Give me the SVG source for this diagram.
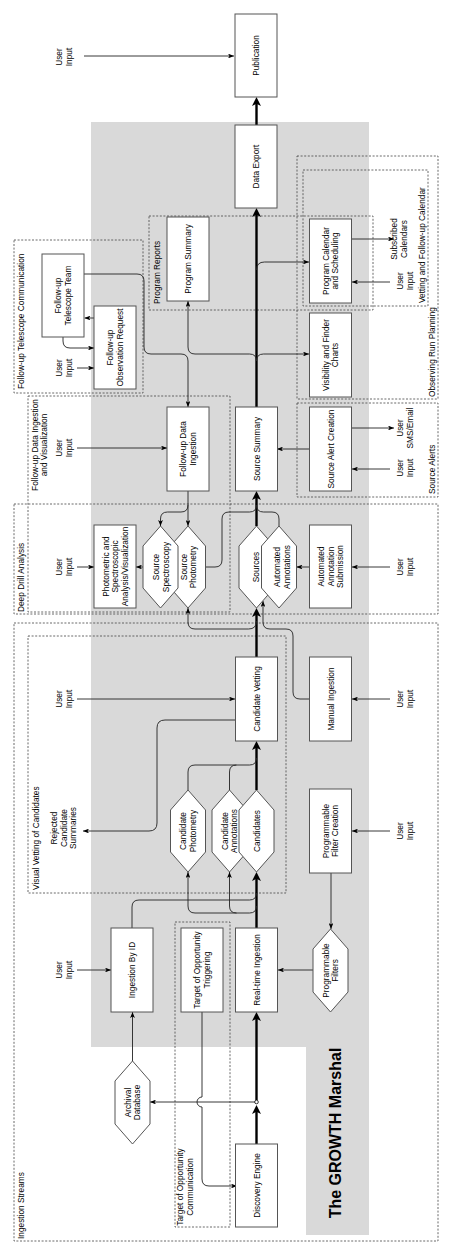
<svg xmlns="http://www.w3.org/2000/svg" width="453" height="1256" viewBox="0 0 453 1256">
<defs>
<style>
.t{font-family:"Liberation Sans",Arial,Helvetica,sans-serif;font-size:8.3px;fill:#000;text-anchor:middle}
.l{font-family:"Liberation Sans",Arial,Helvetica,sans-serif;font-size:8.3px;fill:#000;text-anchor:start}
.lc{font-family:"Liberation Sans",Arial,Helvetica,sans-serif;font-size:8.3px;fill:#000;text-anchor:middle}
.b{fill:#fff;stroke:#555;stroke-width:1}
.d{fill:none;stroke:#444;stroke-width:0.8;stroke-dasharray:2 1.6}
.c{fill:none;stroke:#222;stroke-width:0.9}
.ca{fill:none;stroke:#222;stroke-width:0.9;marker-end:url(#a)}
.k{fill:none;stroke:#000;stroke-width:2.4;marker-end:url(#A)}
</style>
<marker id="a" viewBox="0 0 10 8" refX="10" refY="4" markerWidth="6" markerHeight="4.8" markerUnits="userSpaceOnUse" orient="auto"><path d="M0,0 L10,4 L0,8 L2.5,4 Z" fill="#000"/></marker>
<marker id="A" viewBox="0 0 10 10" refX="5" refY="5" markerWidth="9" markerHeight="9" markerUnits="userSpaceOnUse" orient="auto"><path d="M0,0 L10,5 L0,10 L2.5,5 Z" fill="#000"/></marker>
</defs>
<rect width="453" height="1256" fill="#fff"/>
<path id="marshal-bg" d="M91 122 H369 V1235 H306 V1047 H91 Z" fill="#d9d9d9"/>
<text id="marshal-title" transform="translate(341 1133) rotate(-90)" style="font-family:'Liberation Sans',Arial,sans-serif;font-size:16px;font-weight:bold;text-anchor:middle;fill:#000">The GROWTH Marshal</text>

<g id="groups">
<rect class="d" x="14" y="623" width="424" height="618"/>
<text class="l" transform="translate(24 1239) rotate(-90)">Ingestion Streams</text>
<rect class="d" x="28" y="636" width="258" height="257"/>
<text class="l" transform="translate(38.5 890) rotate(-90)">Visual Vetting of Candidates</text>
<rect class="d" x="175" y="922" width="55" height="305"/>
<text class="lc" transform="translate(183 1187) rotate(-90)"><tspan x="0" y="0">Target of Opportunity</tspan><tspan x="0" y="9.5">Communication</tspan></text>
<rect class="d" x="14" y="504" width="424" height="110"/>
<text class="l" transform="translate(24 612) rotate(-90)">Deep Drill Analysis</text>
<rect class="d" x="28" y="396" width="202" height="216"/>
<text class="lc" transform="translate(37.5 445) rotate(-90)"><tspan x="0" y="0">Follow-up Data Ingestion</tspan><tspan x="0" y="9.3">and Visualization</tspan></text>
<rect class="d" x="14" y="240" width="129" height="153"/>
<text class="l" transform="translate(24 389) rotate(-90)">Follow-up Telescope Communication</text>
<rect class="d" x="149" y="216" width="224" height="94"/>
<text class="l" transform="translate(160 304) rotate(-90)">Program Reports</text>
<rect class="d" x="297" y="156" width="141" height="243"/>
<text class="l" transform="translate(435 397) rotate(-90)">Observing Run Planning</text>
<rect class="d" x="303" y="170" width="125" height="136"/>
<text class="l" transform="translate(425 303) rotate(-90)">Vetting and Follow-up Calendar</text>
<rect class="d" x="297" y="403" width="141" height="94"/>
<text class="l" transform="translate(435 494) rotate(-90)">Source Alerts</text>
</g>

<g id="connectors">
<path class="ca" d="M84 56 H234"/>
<path class="k" d="M256.5 125 V101.5"/>
<path class="k" d="M256.5 407 V212.5"/>
<path class="ca" d="M256.5 270 Q256.5 262 264.5 262 H309"/>
<path class="ca" d="M256.5 361 Q256.5 354 263.5 354 H309"/>
<path class="ca" d="M256.5 361 Q256.5 354 249.5 354 H195 Q188 354 188 347 V301"/>
<path class="ca" d="M84 274 H137 Q144 274 144 281 V347 Q144 354 151 354 H181 Q188 354 188 361 V407"/>
<path class="ca" d="M63 337 V341 Q63 348 70 348 H94"/>
<path class="ca" d="M94 318 H84.5"/>
<path class="ca" d="M77 368 H94"/>
<path class="ca" d="M77 448 H167"/>
<path class="ca" d="M309 449 H277"/>
<path class="k" d="M256.5 526 V495.5"/>
<path class="c" d="M205.5 567 H215 Q222 567 222 560 V519 Q222 512 229 512 H249.5 Q256.5 512 256.5 505"/>
<path class="c" d="M279 526 V519 Q279 512 272 512 H263.5 Q256.5 512 256.5 505"/>
<path class="ca" d="M188 491 V526"/>
<path class="ca" d="M188 505 Q188 512 181 512 H167.5 Q160.5 512 160.5 519 V526"/>
<path class="ca" d="M77 567 H94"/>
<path class="ca" d="M143 567 H136"/>
<path class="ca" d="M309 567 H296.5"/>
<path class="k" d="M256.5 657 V612.5"/>
<path class="ca" d="M256.5 621 Q256.5 629 248.5 629 H195 Q188 629 188 622 V608"/>
<path class="ca" d="M309 699 H300 Q293 699 293 692 V636 Q293 629 286 629 H270 Q263 629 263 622 V601"/>
<path class="ca" d="M77 699 H235"/>
<path class="ca" d="M235 720 H165 Q157 720 157 728 V823 Q157 831 149 831 H83"/>
<path class="k" d="M256.5 790 V745.5"/>
<path class="c" d="M229.5 790 V772 Q229.5 765 236.5 765 H249.5 Q256.5 765 256.5 758"/>
<path class="c" d="M188 790 V772 Q188 765 195 765 H236.5"/>
<path class="k" d="M256.5 928 V876.5"/>
<path class="ca" d="M256.5 906 Q256.5 913 249.5 913 H195 Q188 913 188 906 V872"/>
<path class="ca" d="M236.5 913 Q229.5 913 229.5 906 V872"/>
<path class="c" d="M132 928 V907 Q132 900 139 900 H249.5 Q256.5 900 256.5 893"/>
<path class="ca" d="M331 873 V929"/>
<path class="ca" d="M313 970 H278"/>
<path class="ca" d="M77 970 H111"/>
<path class="ca" d="M132.5 1061 V1012"/>
<path class="ca" d="M256.5 1102 H150"/>
<path class="ca" d="M202 1012 V1097 A5 5 0 0 0 202 1107 V1179 Q202 1186 209 1186 H237"/>
<path class="k" d="M256.5 1144 V1109.5"/>
<path class="k" d="M256.5 1100 V1016.5"/>
<circle cx="256.5" cy="1102" r="1.8" fill="#fff" stroke="#000" stroke-width="0.8"/>
<path class="ca" d="M390 282 H352"/>
<path class="ca" d="M352 239 H394"/>
<path class="ca" d="M390 469 H352"/>
<path class="ca" d="M352 428 H394"/>
<path class="ca" d="M390 567 H352"/>
<path class="ca" d="M390 699 H352"/>
<path class="ca" d="M390 831 H352"/>
</g>

<g id="free-text">
<text class="t" transform="translate(64 57) rotate(-90)"><tspan x="0" y="-1.75">User</tspan><tspan x="0" y="7.75">Input</tspan></text>
<text class="t" transform="translate(64 368) rotate(-90)"><tspan x="0" y="-1.75">User</tspan><tspan x="0" y="7.75">Input</tspan></text>
<text class="t" transform="translate(64 448) rotate(-90)"><tspan x="0" y="-1.75">User</tspan><tspan x="0" y="7.75">Input</tspan></text>
<text class="t" transform="translate(64 567) rotate(-90)"><tspan x="0" y="-1.75">User</tspan><tspan x="0" y="7.75">Input</tspan></text>
<text class="t" transform="translate(64 699) rotate(-90)"><tspan x="0" y="-1.75">User</tspan><tspan x="0" y="7.75">Input</tspan></text>
<text class="t" transform="translate(64 970) rotate(-90)"><tspan x="0" y="-1.75">User</tspan><tspan x="0" y="7.75">Input</tspan></text>
<text class="t" transform="translate(63.5 828) rotate(-90)"><tspan x="0" y="-6.5">Rejected</tspan><tspan x="0" y="3">Candidate</tspan><tspan x="0" y="12.5">Summaries</tspan></text>
<text class="t" transform="translate(399 239) rotate(-90)"><tspan x="0" y="-1.75">Subscribed</tspan><tspan x="0" y="7.75">Calendars</tspan></text>
<text class="t" transform="translate(405 281) rotate(-90)"><tspan x="0" y="-1.75">User</tspan><tspan x="0" y="7.75">Input</tspan></text>
<text class="t" transform="translate(405 428) rotate(-90)"><tspan x="0" y="-1.75">User</tspan><tspan x="0" y="7.75">SMS/Email</tspan></text>
<text class="t" transform="translate(405 468) rotate(-90)"><tspan x="0" y="-1.75">User</tspan><tspan x="0" y="7.75">Input</tspan></text>
<text class="t" transform="translate(405 567) rotate(-90)"><tspan x="0" y="-1.75">User</tspan><tspan x="0" y="7.75">Input</tspan></text>
<text class="t" transform="translate(405 699) rotate(-90)"><tspan x="0" y="-1.75">User</tspan><tspan x="0" y="7.75">Input</tspan></text>
<text class="t" transform="translate(405 831) rotate(-90)"><tspan x="0" y="-1.75">User</tspan><tspan x="0" y="7.75">Input</tspan></text>
</g>

<g id="n-publication"><rect class="b" x="235" y="14" width="42" height="83"/><text class="t" transform="translate(256 55.5) rotate(-90)"><tspan x="0" y="3">Publication</tspan></text></g>
<g id="n-data-export"><rect class="b" x="235" y="125" width="42" height="83"/><text class="t" transform="translate(256 166.5) rotate(-90)"><tspan x="0" y="3">Data Export</tspan></text></g>
<g id="n-program-calendar"><rect class="b" x="309.5" y="219" width="42" height="84"/><text class="t" transform="translate(330.5 261) rotate(-90)"><tspan x="0" y="-1.75">Program Calendar</tspan><tspan x="0" y="7.75">and Scheduling</tspan></text></g>
<g id="n-visibility"><rect class="b" x="309.5" y="313" width="42" height="84"/><text class="t" transform="translate(330.5 355) rotate(-90)"><tspan x="0" y="-1.75">Visibility and Finder</tspan><tspan x="0" y="7.75">Charts</tspan></text></g>
<g id="n-program-summary"><rect class="b" x="167" y="217" width="42" height="84"/><text class="t" transform="translate(188 259) rotate(-90)"><tspan x="0" y="3">Program Summary</tspan></text></g>
<g id="n-telescope-team"><rect class="b" x="42" y="254" width="42" height="83"/><text class="t" transform="translate(63 295.5) rotate(-90)"><tspan x="0" y="-1.75">Follow-up</tspan><tspan x="0" y="7.75">Telescope Team</tspan></text></g>
<g id="n-observation-request"><rect class="b" x="94" y="306" width="42" height="83"/><text class="t" transform="translate(115 347.5) rotate(-90)"><tspan x="0" y="-1.75">Follow-up</tspan><tspan x="0" y="7.75">Observation Request</tspan></text></g>
<g id="n-source-summary"><rect class="b" x="235.5" y="407" width="42" height="84"/><text class="t" transform="translate(256.5 449) rotate(-90)"><tspan x="0" y="3">Source Summary</tspan></text></g>
<g id="n-source-alert"><rect class="b" x="309.5" y="407" width="42" height="84"/><text class="t" transform="translate(330.5 449) rotate(-90)"><tspan x="0" y="3">Source Alert Creation</tspan></text></g>
<g id="n-followup-ingestion"><rect class="b" x="167" y="407" width="42" height="84"/><text class="t" transform="translate(188 449) rotate(-90)"><tspan x="0" y="-1.75">Follow-up Data</tspan><tspan x="0" y="7.75">Ingestion</tspan></text></g>
<g id="n-photometric-analysis"><rect class="b" x="94" y="525" width="42" height="83"/><text class="t" transform="translate(115 566.5) rotate(-90)"><tspan x="0" y="-6.5">Photometric and</tspan><tspan x="0" y="3">Spectroscopic</tspan><tspan x="0" y="12.5">Analysis/Visualization</tspan></text></g>
<g id="n-source-photometry"><polygon class="b" points="188,526 205.5,546 205.5,588 188,608 170.5,588 170.5,546"/><text class="t" transform="translate(188.5 567) rotate(-90)"><tspan x="0" y="-1.75">Source</tspan><tspan x="0" y="7.75">Photometry</tspan></text></g>
<g id="n-source-spectroscopy"><polygon class="b" points="160.5,526 178,546 178,588 160.5,608 143,588 143,546"/><text class="t" transform="translate(161 567) rotate(-90)"><tspan x="0" y="-1.75">Source</tspan><tspan x="0" y="7.75">Spectroscopy</tspan></text></g>
<g id="n-sources"><polygon class="b" points="256.5,526 274,546 274,588 256.5,608 239,588 239,546"/><text class="t" transform="translate(256 567) rotate(-90)"><tspan x="0" y="3">Sources</tspan></text></g>
<g id="n-automated-annotations"><polygon class="b" points="279,526 296.5,546 296.5,588 279,608 261.5,588 261.5,546"/><text class="t" transform="translate(282 567) rotate(-90)"><tspan x="0" y="-1.75">Automated</tspan><tspan x="0" y="7.75">Annotations</tspan></text></g>
<g id="n-annotation-submission"><rect class="b" x="309.5" y="525" width="42" height="83"/><text class="t" transform="translate(330.5 566.5) rotate(-90)"><tspan x="0" y="-6.5">Automated</tspan><tspan x="0" y="3">Annotation</tspan><tspan x="0" y="12.5">Submission</tspan></text></g>
<g id="n-candidate-vetting"><rect class="b" x="235.5" y="657" width="42" height="84"/><text class="t" transform="translate(256.5 699) rotate(-90)"><tspan x="0" y="3">Candidate Vetting</tspan></text></g>
<g id="n-manual-ingestion"><rect class="b" x="309.5" y="657" width="42" height="84"/><text class="t" transform="translate(330.5 699) rotate(-90)"><tspan x="0" y="3">Manual Ingestion</tspan></text></g>
<g id="n-candidate-photometry"><polygon class="b" points="188,790 205.5,810 205.5,852 188,872 170.5,852 170.5,810"/><text class="t" transform="translate(188 831) rotate(-90)"><tspan x="0" y="-1.75">Candidate</tspan><tspan x="0" y="7.75">Photometry</tspan></text></g>
<g id="n-candidate-annotations"><polygon class="b" points="229.5,790 247,810 247,852 229.5,872 212,852 212,810"/><text class="t" transform="translate(229.5 831) rotate(-90)"><tspan x="0" y="-1.75">Candidate</tspan><tspan x="0" y="7.75">Annotations</tspan></text></g>
<g id="n-candidates"><polygon class="b" points="256.5,790 274,810 274,852 256.5,872 239,852 239,810"/><text class="t" transform="translate(256.5 831) rotate(-90)"><tspan x="0" y="3">Candidates</tspan></text></g>
<g id="n-filter-creation"><rect class="b" x="309.5" y="789" width="42" height="84"/><text class="t" transform="translate(330.5 831) rotate(-90)"><tspan x="0" y="-1.75">Programmable</tspan><tspan x="0" y="7.75">Filter Creation</tspan></text></g>
<g id="n-ingestion-by-id"><rect class="b" x="111" y="928" width="42" height="84"/><text class="t" transform="translate(132 970) rotate(-90)"><tspan x="0" y="3">Ingestion By ID</tspan></text></g>
<g id="n-too-triggering"><rect class="b" x="181" y="928" width="42" height="84"/><text class="t" transform="translate(202 970) rotate(-90)"><tspan x="0" y="-1.75">Target of Opportunity</tspan><tspan x="0" y="7.75">Triggering</tspan></text></g>
<g id="n-realtime-ingestion"><rect class="b" x="235.5" y="928" width="42" height="84"/><text class="t" transform="translate(256.5 970) rotate(-90)"><tspan x="0" y="3">Real-time Ingestion</tspan></text></g>
<g id="n-programmable-filters"><polygon class="b" points="330.5,929 348,949 348,992 330.5,1012 313,992 313,949"/><text class="t" transform="translate(330.5 970.5) rotate(-90)"><tspan x="0" y="-1.75">Programmable</tspan><tspan x="0" y="7.75">Filters</tspan></text></g>
<g id="n-archival-database"><polygon class="b" points="132.5,1061 150,1081 150,1124 132.5,1144 115,1124 115,1081"/><text class="t" transform="translate(132.5 1102.5) rotate(-90)"><tspan x="0" y="-1.75">Archival</tspan><tspan x="0" y="7.75">Database</tspan></text></g>
<g id="n-discovery-engine"><rect class="b" x="235.5" y="1144" width="42" height="83"/><text class="t" transform="translate(256.5 1185.5) rotate(-90)"><tspan x="0" y="3">Discovery Engine</tspan></text></g>
</svg>
